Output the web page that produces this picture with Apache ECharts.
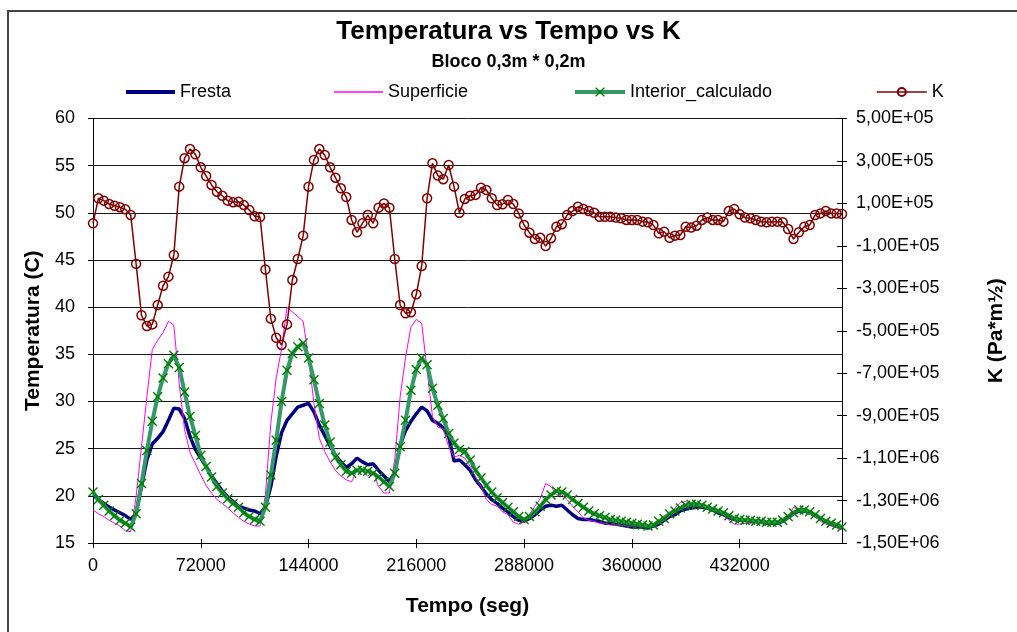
<!DOCTYPE html>
<html>
<head>
<meta charset="utf-8">
<title>Temperatura vs Tempo vs K</title>
<script src="https://cdn.jsdelivr.net/npm/echarts@6/dist/echarts.min.js"></script>
<style>
  html, body { margin: 0; padding: 0; background: #fff; }
  #chart { width: 1017px; height: 632px; }
</style>
</head>
<body>
<div id="chart"></div>
<script>
// Hourly samples (one value every 3600 s)
const STEP_S = 3600;

const fresta = [
  20.1, 19.6, 19.2, 18.8, 18.5, 18.2, 17.9, 17.5, 18.1, 21.0,
  23.8, 25.5, 26.1, 26.8, 28.0, 29.3, 29.2, 28.2, 26.3, 24.9,
  24.0, 23.1, 22.1, 21.3, 20.5, 19.9, 19.4, 18.9, 18.7, 18.5,
  18.4, 18.1, 18.8, 21.0, 24.2, 26.7, 28.0, 28.7, 29.4, 29.6,
  29.8, 28.9, 27.5, 26.4, 25.3, 24.3, 23.6, 23.0, 23.4, 24.0,
  23.6, 23.3, 23.4, 22.7, 22.1, 21.5, 22.5, 25.4, 26.9, 27.9,
  28.7, 29.4, 29.0, 28.0, 27.7, 27.2, 26.3, 23.7, 23.8, 23.3,
  22.7, 21.7, 21.0, 20.2, 19.6, 19.2, 18.7, 18.3, 17.8, 17.4,
  17.3, 17.6, 18.0, 18.5, 18.9, 19.0, 18.9, 19.0, 18.5, 18.0,
  17.6, 17.5, 17.5, 17.4, 17.3, 17.1, 17.1, 17.0, 16.9, 16.8,
  16.7, 16.7, 16.7, 16.6, 16.8, 17.0, 17.4, 17.8, 18.0, 18.4,
  18.6, 18.7, 18.8, 18.8, 18.7, 18.5, 18.2, 18.0, 17.7, 17.5,
  17.4, 17.4, 17.3, 17.3, 17.2, 17.1, 17.1, 17.1, 17.3, 17.7,
  18.1, 18.4, 18.4, 18.2, 17.9, 17.6, 17.3, 17.0, 16.8, 16.7
];

const superficie = [
  18.5, 18.1, 17.8, 17.4, 17.1, 16.8, 16.3, 16.2, 19.9, 25.2,
  30.5, 35.5, 36.5, 37.3, 38.5, 38.1, 31.9, 27.0, 24.6, 23.4,
  22.2, 21.1, 20.3, 19.6, 19.2, 18.7, 18.2, 17.7, 17.3, 17.0,
  16.8, 16.8, 20.1, 27.7, 32.5, 35.6, 40.0, 39.5, 39.0, 38.5,
  34.7, 29.8, 26.1, 24.7, 23.6, 22.7, 22.1, 21.7, 21.5, 22.7,
  22.6, 22.1, 22.6, 21.0, 20.3, 20.3, 23.8, 30.5, 34.7, 37.9,
  38.7, 38.3, 33.3, 28.4, 27.3, 27.1, 25.2, 24.1, 24.3, 24.0,
  23.1, 22.0, 21.0, 19.6, 19.1, 18.9, 18.3, 18.0, 17.2, 17.0,
  17.2, 18.0, 18.9, 19.7, 21.3, 21.0, 20.1, 20.1, 19.6, 18.9,
  18.3, 17.7, 17.4, 17.3, 17.1, 17.1, 16.9, 16.9, 16.9, 16.8,
  16.8, 16.8, 16.7, 16.7, 16.9, 17.4, 17.9, 18.2, 18.7, 19.3,
  19.4, 19.0, 18.9, 18.8, 18.8, 18.7, 18.4, 18.1, 17.4, 17.0,
  17.0, 17.1, 17.1, 17.1, 17.1, 17.1, 17.1, 17.1, 17.3, 17.7,
  18.8, 18.5, 18.4, 18.1, 17.8, 17.3, 17.0, 16.8, 16.6, 16.4
];

const interiorCalculado = [
  20.4, 19.6, 19.0, 18.4, 17.9, 17.4, 17.1, 16.7, 18.1, 21.3,
  24.8, 27.9, 30.5, 32.5, 34.0, 34.9, 33.6, 31.0, 28.4, 26.4,
  24.3, 23.1, 22.0, 21.0, 20.3, 19.7, 19.2, 18.8, 18.2, 17.8,
  17.5, 17.3, 18.8, 22.2, 25.9, 30.0, 33.3, 35.1, 35.8, 36.2,
  34.6, 32.3, 29.8, 27.5, 25.7, 24.1, 23.3, 22.6, 22.4, 22.7,
  22.7, 22.6, 22.4, 22.0, 21.5, 21.0, 22.4, 25.2, 28.0, 31.2,
  33.4, 34.6, 33.9, 31.4, 29.6, 28.2, 26.6, 25.6, 24.9, 24.7,
  23.8, 22.7, 21.9, 21.1, 20.4, 19.8, 19.3, 18.8, 18.3, 17.8,
  17.5, 17.8, 18.3, 18.9, 19.6, 20.1, 20.5, 20.4, 20.1, 19.6,
  19.2, 18.8, 18.4, 18.1, 17.9, 17.7, 17.5, 17.4, 17.3, 17.2,
  17.1, 17.0, 16.9, 16.8, 16.9, 17.3, 17.6, 18.1, 18.4, 18.7,
  19.0, 19.1, 19.1, 19.0, 18.8, 18.6, 18.4, 18.2, 17.9, 17.6,
  17.5, 17.4, 17.4, 17.3, 17.3, 17.2, 17.2, 17.2, 17.4, 17.8,
  18.2, 18.5, 18.5, 18.3, 18.0, 17.6, 17.3, 17.1, 16.9, 16.7
];

// Stress intensity factor K (Pa*m^1/2)
const kValues = [
     6000,  124000,  113000,   97000,   89000,   82000,   72000,   45000, -185000, -427000,
  -478000, -470000, -379000, -288000, -245000, -143000,  179000,  313000,  356000,  331000,
   270000,  229000,  187000,  155000,  136000,  113000,  105000,  108000,   92000,   69000,
    39000,   36000, -212000, -443000, -533000, -567000, -470000, -261000, -162000,  -52000,
   179000,  305000,  356000,  328000,  270000,  221000,  171000,  130000,   22000,  -36000,
     6000,   45000,    6000,   80000,  100000,   80000, -162000, -379000, -418000, -413000,
  -328000, -195000,  124000,  289000,  231000,  214000,  281000,  179000,   56000,  121000,
   136000,  140000,  174000,  163000,  124000,   92000,   96000,  116000,   97000,   53000,
    -2000,  -38000,  -68000,  -62000, -101000,  -64000,  -10000,    2000,   45000,   64000,
    84000,   74000,   64000,   56000,   37000,   37000,   37000,   33000,   30000,   22000,
    22000,   22000,   14000,   11000,   -2000,  -41000,  -33000,  -62000,  -52000,  -49000,
   -10000,  -14000,   -5000,   22000,   33000,   22000,   22000,   14000,   64000,   74000,
    49000,   33000,   30000,   22000,   14000,   11000,   14000,   14000,   11000,  -21000,
   -68000,  -36000,  -10000,   -2000,   45000,   53000,   64000,   53000,   53000,   50000
];

// Secondary axis tick positions
const kTicks = [-1500000, -1300000, -1100000, -900000, -700000, -500000,
                -300000, -100000, 100000, 300000, 500000];

// Time categories in seconds
const timeCats = fresta.map((_, i) => String(i * STEP_S));

// Excel-style scientific label: 5,00E+05
function sciComma(v) {
  if (v === 0) return '0,00E+00';
  const sign = v < 0 ? '-' : '';
  const a = Math.abs(v);
  let e = Math.floor(Math.log10(a));
  let m = a / Math.pow(10, e);
  if (Math.round(m * 100) / 100 >= 10) { m /= 10; e += 1; }
  const es = (e < 0 ? '-' : '+') + String(Math.abs(e)).padStart(2, '0');
  return sign + m.toFixed(2).replace('.', ',') + 'E' + es;
}

const FONT = "'Liberation Sans', Arial, sans-serif";
const XMARK = 'path://M1,0 L5,4 L9,0 L10,1 L6,5 L10,9 L9,10 L5,6 L1,10 L0,9 L4,5 L0,1 Z';

const legendText = { fontFamily: FONT, fontSize: 18, color: '#000' };
const nameText = { fontFamily: FONT, fontSize: 21, fontWeight: 'bold', color: '#000' };

const chart = echarts.init(document.getElementById('chart'), null, { renderer: 'canvas' });

chart.setOption({
  animation: false,
  backgroundColor: '#fff',
  textStyle: { fontFamily: FONT, color: '#000' },
  title: {
    text: 'Temperatura vs Tempo vs K',
    subtext: 'Bloco 0,3m * 0,2m',
    left: 'center',
    top: 14,
    itemGap: 8,
    textStyle: { fontFamily: FONT, fontSize: 26, fontWeight: 'bold', color: '#000' },
    subtextStyle: { fontFamily: FONT, fontSize: 18, fontWeight: 'bold', color: '#000' }
  },
  legend: [
    { data: [{ name: 'Fresta', icon: 'rect' }], left: 126, top: 83, itemWidth: 49, itemHeight: 4 },
    { data: [{ name: 'Superficie', icon: 'rect' }], left: 334, top: 83, itemWidth: 49, itemHeight: 1.5 },
    { data: ['Interior_calculado'], left: 573, top: 83, itemWidth: 50, itemHeight: 12,
      lineStyle: { width: 4, color: '#339966' } },
    { data: ['K'], left: 876, top: 83, itemWidth: 50, itemHeight: 10,
      lineStyle: { width: 1.5, color: '#800000' } }
  ].map(l => Object.assign(l, { padding: 0, itemGap: 5, textStyle: legendText })),
  graphic: [{
    type: 'rect',
    shape: { x: 8, y: 11, width: 1200, height: 800 },
    style: { fill: 'none', stroke: '#444', lineWidth: 2 },
    silent: true
  }],
  grid: { left: 93, right: 175, top: 118.5, bottom: 89, containLabel: false },
  xAxis: [
    {
      type: 'category',
      data: timeCats,
      boundaryGap: false,
      position: 'bottom',
      name: 'Tempo (seg)',
      nameLocation: 'middle',
      nameGap: 53,
      nameTextStyle: Object.assign({ verticalAlign: 'top' }, nameText),
      axisLine: { onZero: false, lineStyle: { color: '#000', width: 1 } },
      axisTick: { interval: 19, length: 5, lineStyle: { color: '#000' } },
      axisLabel: { interval: 19, fontSize: 18, color: '#000', margin: 14, fontFamily: FONT },
      splitLine: { show: false }
    },
    {
      // inner half of the crossing tick marks on the time axis
      type: 'category',
      data: timeCats,
      boundaryGap: false,
      position: 'bottom',
      axisLine: { show: false, onZero: false },
      axisTick: { interval: 19, length: 4, inside: true, lineStyle: { color: '#000' } },
      axisLabel: { show: false },
      splitLine: { show: false }
    }
  ],
  yAxis: [
    {
      type: 'value',
      position: 'left',
      min: 15, max: 60, interval: 5,
      name: 'Temperatura (C)',
      nameLocation: 'middle',
      nameGap: 47,
      nameTextStyle: nameText,
      axisLine: { show: true, onZero: false, lineStyle: { color: '#000', width: 1 } },
      axisTick: { show: true, length: 5, lineStyle: { color: '#000' } },
      axisLabel: { fontSize: 18, color: '#000', margin: 18, fontFamily: FONT },
      splitLine: { show: true, lineStyle: { color: '#1a1a1a', width: 1 } }
    },
    {
      type: 'value',
      position: 'right',
      min: -1500000, max: 500000,
      name: 'K (Pa*m½)',
      nameLocation: 'middle',
      nameGap: 144,
      nameTextStyle: nameText,
      axisLine: { show: true, onZero: false, lineStyle: { color: '#000', width: 1 } },
      axisTick: { show: true, length: 5, customValues: kTicks, lineStyle: { color: '#000' } },
      axisLabel: { customValues: kTicks, fontSize: 18, color: '#000', margin: 14, fontFamily: FONT,
                   formatter: v => sciComma(v) },
      splitLine: { show: false }
    },
    {
      // inner half of the crossing tick marks on the K axis
      type: 'value',
      position: 'right',
      min: -1500000, max: 500000,
      axisLine: { show: false, onZero: false },
      axisTick: { show: true, inside: true, length: 5, customValues: kTicks, lineStyle: { color: '#000' } },
      axisLabel: { show: false },
      splitLine: { show: false }
    }
  ],
  series: [
    {
      name: 'Fresta', type: 'line', yAxisIndex: 0, data: fresta,
      symbol: 'none', lineStyle: { color: '#000080', width: 3.5 },
      itemStyle: { color: '#000080' }, z: 2
    },
    {
      name: 'Superficie', type: 'line', yAxisIndex: 0, data: superficie,
      symbol: 'none', lineStyle: { color: '#ff00ff', width: 1 },
      itemStyle: { color: '#ff00ff' }, z: 3
    },
    {
      name: 'Interior_calculado', type: 'line', yAxisIndex: 0, data: interiorCalculado,
      symbol: XMARK, symbolSize: 10, showAllSymbol: true,
      lineStyle: { color: '#339966', width: 4 },
      itemStyle: { color: '#008000' }, z: 4
    },
    {
      name: 'K', type: 'line', yAxisIndex: 1, data: kValues,
      symbol: 'circle', symbolSize: 9, showAllSymbol: true,
      lineStyle: { color: '#800000', width: 1.5 },
      itemStyle: { color: 'rgba(255,255,255,0)', borderColor: '#800000', borderWidth: 1.5 }, z: 5
    }
  ]
});
</script>
</body>
</html>
